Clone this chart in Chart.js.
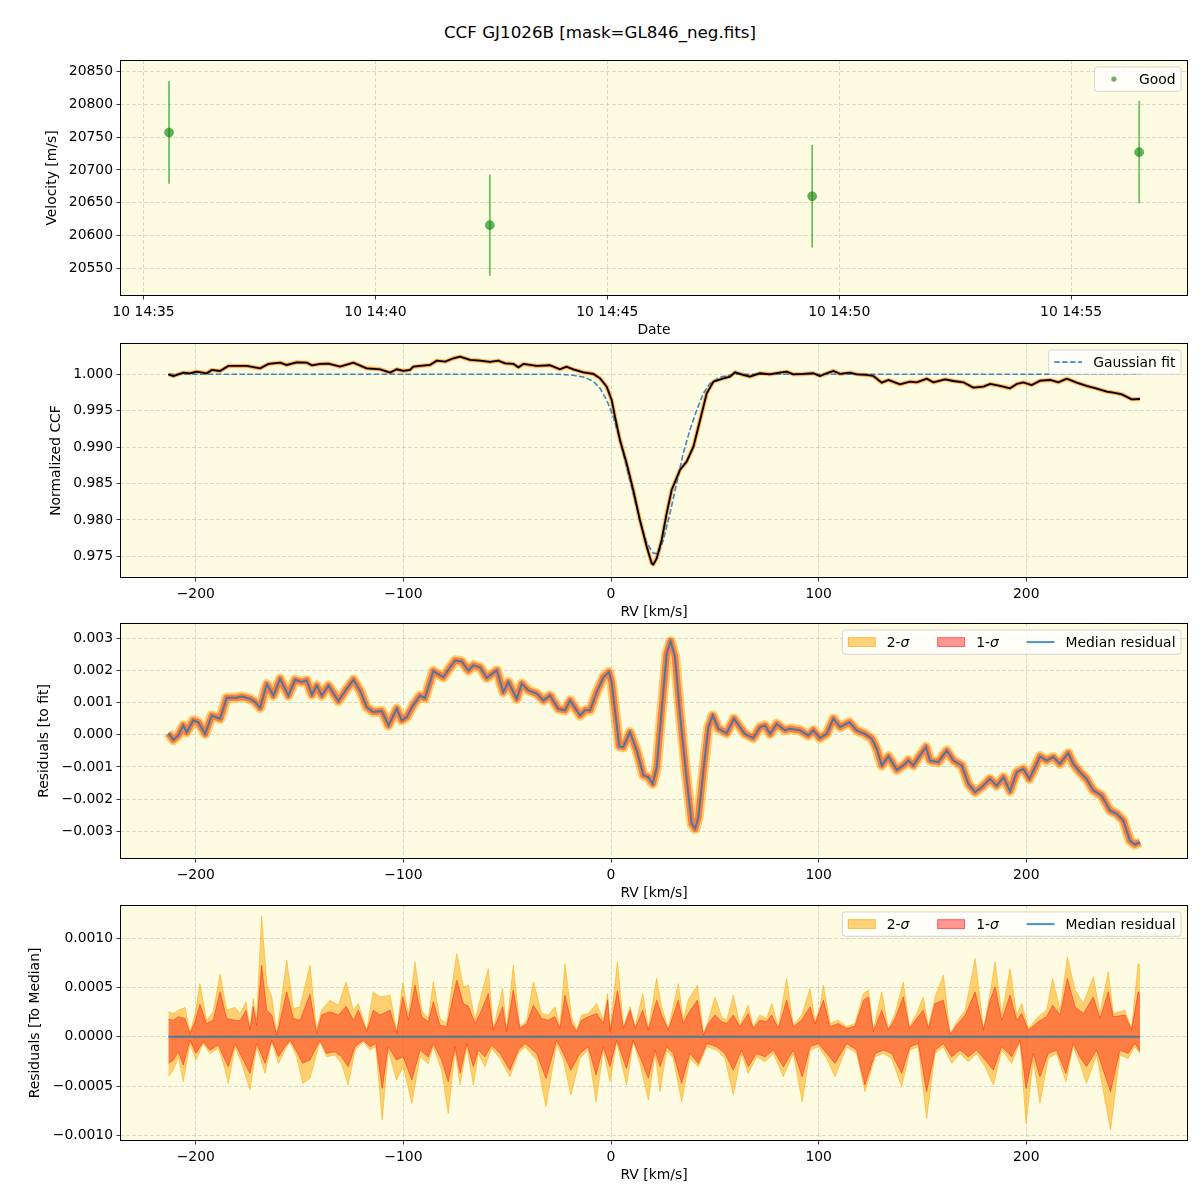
<!DOCTYPE html>
<html>
<head>
<meta charset="utf-8">
<script src="https://cdn.jsdelivr.net/npm/chart.js@4.4.1/dist/chart.umd.min.js"></script>
<style>
html,body{margin:0;padding:0;background:#fff;}
#wrap{position:relative;width:1200px;height:1200px;overflow:hidden;background:#fff;}
#wrap canvas{position:absolute;left:0;}
#title{position:absolute;left:0;top:22px;width:1200px;text-align:center;font-family:'DejaVu Sans',sans-serif;font-size:16.7px;line-height:20px;color:#000;}
</style>
</head>
<body>
<div id="wrap">
  <div id="title">CCF GJ1026B [mask=GL846_neg.fits]</div>
  <canvas id="c1" width="1200" height="302" style="top:40px"></canvas>
  <canvas id="c2" width="1200" height="301" style="top:323px"></canvas>
  <canvas id="c3" width="1200" height="302" style="top:603px"></canvas>
  <canvas id="c4" width="1200" height="302" style="top:885px"></canvas>
</div>
<script>
// ---------------- DATA ----------------
// Panel 1: velocity time series (10th, hour 14)
const obsTimes = ['14:35:33', '14:42:28', '14:49:25', '14:56:28'];
const velocity = [20757, 20616, 20660, 20727];
const velocityErr = [78, 77, 78, 78];
const timeTickMin = [35, 40, 45, 50, 55];
const timeTicks = ['10 14:35', '10 14:40', '10 14:45', '10 14:50', '10 14:55'];
const velTicks = [20550, 20600, 20650, 20700, 20750, 20800, 20850];

// RV axis ticks and residual ticks
const rvTicks = [-200, -100, 0, 100, 200];
const ccfTicks = [0.975, 0.980, 0.985, 0.990, 0.995, 1.000];
const resTicks = [-0.003, -0.002, -0.001, 0, 0.001, 0.002, 0.003];
const medTicks = [-0.0010, -0.0005, 0, 0.0005, 0.0010];

// Panel 2: normalized CCF and Gaussian fit
const ccfRV = [-213.2,-210.8,-206.0,-202.8,-199.6,-194.7,-192.3,-188.3,-184.3,-175.4,-169.0,-165.0,-159.4,-156.2,-151.4,-146.5,-144.1,-140.1,-136.1,-130.5,-124.1,-117.7,-111.2,-106.4,-103.2,-100.0,-96.8,-95.2,-92.0,-87.2,-83.9,-79.9,-75.9,-72.7,-67.9,-63.1,-58.3,-54.3,-51.0,-47.0,-44.6,-42.2,-35.8,-29.4,-24.6,-21.4,-18.2,-13.3,-8.5,-5.3,-2.1,0.3,1.9,4.3,7.5,10.7,13.9,17.2,19.6,20.4,22.0,24.4,26.8,29.2,33.2,36.4,39.7,42.9,46.1,49.3,54.1,57.3,59.7,63.7,66.9,71.7,76.5,81.3,84.6,87.8,92.6,97.4,100.6,103.9,107.1,110.3,115.1,118.3,123.2,126.4,130.4,133.6,139.2,144.0,147.2,152.1,155.3,160.9,164.9,169.7,174.5,179.4,182.6,187.4,192.2,195.4,198.6,202.6,206.7,211.5,215.5,219.5,224.3,229.1,234.0,238.8,242.0,246.0,250.8,254.8];
const ccfVal = [1.0000,0.99977,1.00023,1.00014,1.00037,1.00014,1.0006,1.00046,1.00115,1.00115,1.00082,1.00142,1.0016,1.00128,1.00165,1.0016,1.00124,1.00142,1.00147,1.00105,1.0016,1.00082,1.00069,1.00023,1.00069,1.00046,1.0006,1.00105,1.00115,1.00128,1.00188,1.00174,1.0022,1.00243,1.00197,1.00188,1.0017,1.00188,1.00151,1.00142,1.00096,1.00142,1.00115,1.00124,1.00069,1.00105,1.00069,1.00027,1.00005,0.99945,0.99831,0.99647,0.99418,0.99098,0.98777,0.98411,0.97999,0.97632,0.97403,0.97389,0.97472,0.97724,0.9809,0.98411,0.98686,0.988,0.99006,0.99373,0.99739,0.99899,0.99945,0.99968,1.00027,0.99991,0.99968,1.00014,1.0,1.00023,1.00037,1.0,1.00005,1.00014,0.99977,1.00014,1.00046,1.00005,1.00023,1.0,0.99991,0.99977,0.99885,0.99922,0.99863,0.99899,0.9989,0.9994,0.9989,0.99931,0.99908,0.9989,0.99817,0.99831,0.99867,0.9984,0.99808,0.99867,0.9989,0.99853,0.99913,0.99922,0.9989,0.9994,0.99885,0.9984,0.99803,0.99762,0.99748,0.99725,0.99656,0.99661];
const fitRV = [-213.2,-30.0,-24.6,-18.2,-13.3,-8.5,-5.3,-2.1,1.1,4.3,7.5,10.7,13.9,17.2,20.4,22.8,25.2,28.4,31.6,34.8,38.0,41.3,44.5,47.7,52.5,58.9,254.8];
const fitVal = [1.0,1.0,1.0,0.99986,0.99963,0.99904,0.99808,0.99647,0.99418,0.99098,0.98731,0.98365,0.98,0.9768,0.9754,0.9754,0.97724,0.9809,0.98503,0.98915,0.99235,0.9951,0.99739,0.99876,0.9996,1.0,1.0];

// Panel 3: median residual to fit (units of 1e-3)
const resRV = [-213.2,-210.8,-208.4,-206.0,-204.4,-201.2,-198.8,-195.5,-192.3,-188.3,-185.1,-180.3,-177.9,-173.9,-171.4,-169.0,-165.8,-162.6,-159.4,-155.4,-152.2,-149.0,-146.6,-144.1,-141.7,-139.3,-136.1,-131.3,-127.3,-124.1,-120.9,-117.7,-114.5,-110.4,-107.2,-103.2,-100.8,-98.4,-95.2,-92.0,-89.6,-85.6,-80.8,-77.5,-75.1,-71.9,-68.7,-66.3,-63.1,-59.9,-55.0,-51.9,-49.5,-45.4,-43.0,-39.8,-35.8,-32.6,-29.4,-25.4,-22.2,-19.7,-14.9,-12.5,-10.1,-6.9,-3.7,-1.0,0.3,1.9,4.0,5.9,9.1,12.4,15.6,18.0,20.1,22.0,24.4,26.8,28.7,30.8,33.2,36.5,38.9,40.5,42.1,44.5,46.9,49.0,51.7,55.7,59.2,62.1,64.5,68.5,71.8,74.2,76.6,79.8,83.8,86.2,91.0,95.0,97.4,100.6,103.9,107.1,110.3,114.8,118.3,122.3,125.6,128.0,130.4,133.6,137.6,140.8,143.2,145.6,148.8,151.7,153.6,157.6,161.7,164.9,168.9,172.1,175.3,178.5,182.5,185.7,189.0,192.2,195.4,198.6,201.5,204.2,206.6,209.8,213.0,216.2,220.2,222.6,225.8,229.0,232.3,236.3,240.3,243.5,246.7,249.9,252.3,254.8];
const resMed = [0.05,-0.16,-0.02,0.29,0.08,0.45,0.39,0.03,0.60,0.50,1.15,1.15,1.19,1.12,1.02,0.84,1.57,1.22,1.74,1.22,1.71,1.64,1.69,1.25,1.53,1.22,1.53,1.05,1.43,1.71,1.38,0.86,0.71,0.74,0.29,0.81,0.45,0.55,0.93,1.22,1.14,1.98,1.79,2.10,2.31,2.28,2.00,2.16,2.10,1.77,2.00,1.33,1.64,1.12,1.59,1.38,1.28,1.07,1.22,0.81,0.76,1.07,0.60,0.76,0.76,1.33,1.79,1.95,1.64,0.76,-0.36,-0.38,0.08,-0.49,-1.26,-1.32,-1.52,-1.01,0.76,2.52,2.91,2.42,0.65,-1.42,-2.77,-2.92,-2.56,-1.11,0.24,0.60,0.19,0.05,0.50,0.24,0.03,-0.10,0.24,0.29,0.03,0.34,0.14,0.19,0.14,-0.02,0.14,-0.10,0.03,0.50,0.24,0.39,0.14,0.03,-0.12,-0.44,-0.95,-0.67,-1.09,-0.95,-0.80,-0.95,-0.64,-0.38,-0.80,-0.85,-0.49,-0.80,-0.95,-1.52,-1.78,-1.63,-1.37,-1.58,-1.32,-1.75,-1.16,-1.06,-1.37,-1.01,-0.67,-0.80,-0.69,-0.90,-0.57,-0.90,-1.16,-1.37,-1.73,-1.89,-2.35,-2.46,-2.66,-3.29,-3.41,-3.34];

// Panel 4: residual to median, upper envelopes (units of 1e-4)
const upRV = [-213.2,-210.8,-208.4,-205.2,-202.8,-200.4,-198.0,-194.8,-191.6,-188.3,-185.1,-181.1,-178.7,-175.8,-173.9,-172.3,-170.7,-168.3,-165.8,-163.4,-161.0,-156.2,-153.0,-149.8,-145.0,-141.8,-139.4,-135.4,-131.3,-127.6,-124.1,-121.7,-117.7,-114.5,-111.3,-106.4,-103.2,-100.3,-97.6,-94.4,-91.2,-88.0,-85.6,-82.4,-79.2,-74.3,-71.1,-68.7,-65.5,-62.3,-59.1,-56.7,-52.2,-50.3,-47.1,-43.9,-40.6,-37.4,-33.4,-30.2,-27.0,-24.6,-22.2,-19.0,-16.6,-14.2,-11.0,-6.9,-3.7,-1.6,-0.5,3.1,6.0,9.2,11.6,15.3,18.0,22.0,24.4,27.6,32.4,34.8,37.2,41.6,44.5,46.9,50.1,53.3,55.7,58.9,62.1,66.1,68.5,71.7,74.9,77.4,80.6,84.6,87.8,91.8,95.9,98.3,100.6,102.3,105.5,109.5,113.5,117.5,121.6,124.0,126.4,130.4,133.6,136.8,140.8,143.7,147.2,150.4,152.9,156.1,160.1,163.3,166.5,170.6,175.4,179.4,182.6,185.0,188.2,192.2,195.4,197.8,201.0,205.8,209.8,212.7,216.3,219.8,223.5,227.5,232.3,235.5,239.5,241.9,247.5,250.7,253.9,254.8];
const up1 = [1.79,1.69,2.03,1.86,0.34,1.52,3.31,1.35,1.69,4.56,1.86,1.69,1.62,2.70,0.68,3.04,1.18,7.26,2.70,2.20,0.17,4.56,1.86,1.69,4.32,0.34,2.20,2.53,2.20,3.11,1.69,2.70,0.51,2.70,2.20,2.70,0.34,4.05,1.69,5.24,2.03,1.52,3.55,1.18,1.01,5.74,3.38,3.11,1.35,2.70,4.39,0.68,3.04,0.51,4.73,0.84,1.35,3.21,1.86,1.69,2.03,0.84,4.22,1.35,0.51,1.69,2.03,2.36,1.35,3.72,0.51,4.66,0.84,2.70,0.84,2.70,0.68,3.72,2.20,0.68,3.72,1.35,2.36,3.72,0.17,1.35,2.20,1.52,1.35,2.20,1.01,2.36,0.84,1.69,1.52,2.20,0.84,3.72,1.01,1.69,3.04,1.28,2.70,3.72,1.01,1.35,0.84,1.08,3.72,4.05,0.51,2.70,0.68,1.86,4.05,0.84,1.86,2.70,0.84,3.38,3.72,0.24,1.18,2.20,4.56,0.68,3.72,5.07,1.69,4.22,1.69,2.36,0.68,1.52,2.03,3.21,2.20,5.91,3.04,2.36,4.05,1.86,4.56,2.03,2.20,0.68,4.56,4.39];
const up2 = [2.53,2.36,2.70,2.97,0.51,2.20,5.40,1.69,2.53,6.35,2.70,2.97,2.36,3.55,0.84,3.88,1.69,12.23,5.40,4.05,0.34,7.77,2.87,3.04,7.26,0.68,2.70,3.72,3.21,5.57,2.70,3.38,0.68,4.56,4.05,4.22,0.51,5.47,2.20,7.60,2.70,1.86,5.57,1.86,1.35,8.45,5.07,5.24,1.69,4.39,6.92,0.84,4.90,0.68,7.26,1.01,1.69,5.57,2.36,2.20,3.04,1.01,7.43,2.03,0.68,2.20,2.36,3.38,1.69,4.39,0.68,7.60,1.01,3.04,1.01,4.39,0.84,5.91,3.04,0.84,5.40,1.69,3.72,5.24,0.34,1.69,4.05,2.03,1.69,4.22,1.18,3.21,1.01,2.20,1.86,3.38,1.01,5.91,1.18,2.20,4.90,1.52,3.04,5.24,1.35,1.69,1.01,1.35,4.39,4.73,0.68,4.56,0.84,2.36,5.57,1.01,2.36,4.05,1.01,4.05,6.25,0.34,1.52,2.70,7.94,0.84,4.39,7.60,2.20,6.92,2.20,3.38,0.84,2.03,2.70,5.91,2.70,8.11,4.73,3.38,6.08,2.36,6.59,2.36,2.70,0.84,7.43,7.26];

// Panel 4: lower envelopes (units of 1e-4)
const loRV = [-213.2,-210.8,-208.4,-206.0,-202.8,-199.9,-196.4,-193.2,-189.1,-186.7,-184.3,-181.1,-177.9,-173.9,-170.7,-166.6,-163.4,-160.2,-157.0,-154.6,-151.4,-148.5,-145.0,-140.2,-137.0,-133.0,-129.8,-126.6,-123.3,-119.3,-116.1,-113.3,-110.2,-107.3,-103.3,-100.1,-95.9,-92.0,-88.0,-85.6,-81.6,-78.4,-75.1,-72.7,-69.5,-66.3,-63.9,-60.7,-57.5,-53.5,-48.7,-44.6,-41.4,-35.8,-31.3,-26.2,-23.0,-19.3,-15.0,-11.0,-7.2,-3.7,-0.5,2.7,7.5,10.7,13.9,18.0,21.2,23.6,26.8,30.0,34.0,38.0,42.1,46.1,50.9,54.9,58.9,62.9,66.1,70.1,74.2,78.2,83.0,87.8,92.1,95.9,99.9,103.9,107.9,113.5,118.3,122.3,127.2,131.2,135.2,140.0,144.0,148.0,152.0,156.1,160.1,164.1,168.1,172.1,176.1,180.2,184.2,188.2,193.0,197.0,199.9,203.4,206.6,210.6,214.6,219.1,222.6,225.8,229.0,233.9,240.6,245.1,249.1,252.3,254.8];
const lo1 = [-2.70,-2.36,-1.52,-2.87,-0.34,-1.69,-0.51,-1.35,-0.84,-2.03,-3.04,-0.68,-2.03,-3.72,-0.68,-2.70,-0.34,-2.03,-1.01,-0.34,-1.52,-2.70,-2.36,-0.34,-1.69,-1.52,-2.03,-3.04,-1.01,-0.34,-1.01,-0.68,-5.24,-1.01,-2.36,-2.03,-4.39,-1.35,-2.03,-0.68,-2.36,-4.56,-1.01,-3.72,-0.68,-3.04,-1.35,-2.03,-0.84,-1.69,-3.38,-1.35,-0.68,-1.69,-4.22,-0.34,-1.69,-3.38,-1.69,-1.01,-3.88,-1.01,-3.04,-0.34,-3.21,-0.34,-2.03,-4.22,-1.35,-3.04,-1.01,-1.69,-4.73,-1.69,-2.70,-0.68,-1.01,-1.69,-3.38,-1.35,-3.04,-1.69,-2.03,-1.35,-3.04,-1.35,-4.05,-1.01,-0.68,-1.69,-2.70,-0.68,-1.35,-4.90,-1.69,-1.35,-1.69,-3.72,-1.01,-0.68,-5.57,-1.35,-0.68,-2.03,-1.35,-2.03,-1.35,-2.36,-3.38,-1.01,-2.03,-0.34,-5.24,-1.69,-4.05,-1.69,-1.35,-3.72,-0.68,-2.03,-3.04,-1.35,-5.57,-1.35,-1.69,-0.68,-1.52];
const lo2 = [-4.05,-3.38,-2.03,-4.56,-0.68,-2.36,-0.68,-1.69,-1.18,-2.70,-4.73,-1.01,-2.70,-5.40,-1.01,-3.72,-0.51,-2.70,-1.35,-0.51,-2.03,-4.73,-4.22,-0.51,-2.03,-1.86,-2.70,-4.90,-1.35,-0.51,-1.35,-1.01,-8.45,-1.35,-4.39,-3.04,-6.76,-2.03,-2.70,-1.01,-3.38,-7.77,-1.35,-4.90,-1.01,-4.90,-1.69,-3.04,-1.18,-2.20,-4.05,-1.69,-1.01,-2.36,-7.09,-0.68,-2.36,-5.91,-2.20,-1.35,-6.59,-1.35,-4.56,-0.51,-4.90,-0.51,-2.70,-6.42,-1.69,-5.57,-1.35,-2.20,-6.59,-2.20,-3.04,-1.01,-1.35,-2.20,-5.91,-1.69,-3.72,-2.03,-2.53,-1.69,-4.05,-1.69,-6.59,-1.35,-1.01,-2.20,-4.05,-1.01,-1.69,-5.57,-2.03,-1.69,-2.20,-5.07,-1.35,-1.01,-8.28,-1.69,-1.01,-2.70,-1.69,-2.53,-1.69,-3.04,-4.90,-1.35,-2.70,-0.51,-8.78,-2.36,-6.76,-2.20,-1.69,-4.56,-1.01,-2.70,-4.73,-1.86,-9.46,-1.86,-2.20,-1.01,-1.69];

// ---------------- HELPERS ----------------
const FONT = "'DejaVu Sans', sans-serif";
const FS = 13.9;
const BG = '#fdfbe1';
const GRID = 'rgba(176,176,176,0.6)';

function fmt(v, d) {
  if (Math.abs(v) < 1e-12) v = 0;
  return v.toFixed(d).replace('-', '\u2212');
}
function pts(xs, ys, k) {
  return xs.map((x, i) => ({ x: x, y: ys[i] * (k || 1) }));
}
function timeToMin(s) {
  const p = s.split(':').map(Number);
  return p[1] + p[2] / 60; // minutes within hour 14
}

const framePlugin = {
  id: 'frame',
  beforeDraw(chart) {
    const { ctx, chartArea: a } = chart;
    ctx.save();
    ctx.fillStyle = BG;
    ctx.fillRect(a.left, a.top, a.right - a.left, a.bottom - a.top);
    ctx.restore();
  },
  afterDraw(chart) {
    const { ctx, chartArea: a } = chart;
    ctx.save();
    ctx.strokeStyle = '#000';
    ctx.lineWidth = 1;
    ctx.strokeRect(a.left + 0.5, a.top + 0.5, a.right - a.left - 1, a.bottom - a.top - 1);
    ctx.restore();
  }
};

const errPlugin = {
  id: 'errbars',
  beforeDatasetsDraw(chart, args, opts) {
    if (!opts || !opts.x) return;
    const { ctx, scales } = chart;
    ctx.save();
    ctx.strokeStyle = opts.color;
    ctx.lineWidth = opts.width;
    opts.x.forEach((t, i) => {
      const px = scales.x.getPixelForValue(t);
      const y1 = scales.y.getPixelForValue(opts.y[i] - opts.e[i]);
      const y2 = scales.y.getPixelForValue(opts.y[i] + opts.e[i]);
      ctx.beginPath();
      ctx.moveTo(px, y1);
      ctx.lineTo(px, y2);
      ctx.stroke();
    });
    ctx.restore();
  }
};

function roundRectPath(ctx, x, y, w, h, r) {
  ctx.beginPath();
  ctx.moveTo(x + r, y);
  ctx.lineTo(x + w - r, y);
  ctx.quadraticCurveTo(x + w, y, x + w, y + r);
  ctx.lineTo(x + w, y + h - r);
  ctx.quadraticCurveTo(x + w, y + h, x + w - r, y + h);
  ctx.lineTo(x + r, y + h);
  ctx.quadraticCurveTo(x, y + h, x, y + h - r);
  ctx.lineTo(x, y + r);
  ctx.quadraticCurveTo(x, y, x + r, y);
  ctx.closePath();
}

const legendPlugin = {
  id: 'mplLegend',
  afterDraw(chart, args, opts) {
    if (!opts || !opts.items) return;
    const items = opts.items;
    const { ctx, chartArea: a } = chart;
    const pad = 0.4 * FS, hl = 2 * FS, htp = 0.8 * FS, cs = 2 * FS;
    ctx.save();
    const segFont = s => (s.it ? 'italic ' : '') + FS + 'px ' + FONT;
    const widths = items.map(it => it.label.reduce((w, s) => { ctx.font = segFont(s); return w + ctx.measureText(s.t).width; }, 0));
    let w = 2 * pad + cs * (items.length - 1);
    items.forEach((it, i) => { w += hl + htp + widths[i]; });
    const h = 24.3;
    const x0 = a.right - 0.5 * FS - w;
    const y0 = a.top + 0.5 * FS;
    roundRectPath(ctx, x0, y0, w, h, 2.8);
    ctx.fillStyle = 'rgba(255,255,255,0.8)';
    ctx.fill();
    ctx.strokeStyle = 'rgba(204,204,204,0.8)';
    ctx.lineWidth = 1;
    ctx.stroke();
    const cy = y0 + h / 2;
    let x = x0 + pad;
    items.forEach((it, i) => {
      if (it.type === 'marker') {
        ctx.beginPath();
        ctx.arc(x + hl / 2, cy, it.r, 0, Math.PI * 2);
        ctx.fillStyle = it.color;
        ctx.fill();
      } else if (it.type === 'line') {
        ctx.beginPath();
        ctx.setLineDash(it.dash || []);
        ctx.strokeStyle = it.color;
        ctx.lineWidth = it.width;
        ctx.moveTo(x, cy);
        ctx.lineTo(x + hl, cy);
        ctx.stroke();
        ctx.setLineDash([]);
      } else if (it.type === 'patch') {
        const ph = 0.7 * FS;
        ctx.fillStyle = it.fill;
        ctx.fillRect(x, cy - ph / 2, hl, ph);
        ctx.strokeStyle = it.stroke;
        ctx.lineWidth = 1;
        ctx.strokeRect(x + 0.5, cy - ph / 2 + 0.5, hl - 1, ph - 1);
      }
      let tx = x + hl + htp;
      ctx.fillStyle = '#000';
      ctx.textBaseline = 'middle';
      ctx.textAlign = 'left';
      it.label.forEach(s => {
        ctx.font = segFont(s);
        ctx.fillText(s.t, tx, cy + 1);
        tx += ctx.measureText(s.t).width;
      });
      x += hl + htp + widths[i] + cs;
    });
    ctx.restore();
  }
};

function gridOpts() {
  return { color: GRID, lineWidth: 0.8, tickColor: '#000', tickLength: 3.5, tickWidth: 0.8, tickBorderDash: [], drawTicks: true };
}
function xAxis(min, max, tickVals, title, cb) {
  return {
    type: 'linear', min: min, max: max, bounds: 'data',
    afterFit(s) { s.height = 46; },
    afterBuildTicks(s) { s.ticks = tickVals.map(v => ({ value: v })); },
    ticks: { autoSkip: false, maxRotation: 0, minRotation: 0, color: '#000', font: { family: FONT, size: FS }, padding: 4.5, callback: cb },
    grid: gridOpts(),
    border: { display: false, dash: [4, 2] },
    title: { display: true, text: title, color: '#000', font: { family: FONT, size: FS }, padding: { top: 0, bottom: 3.7 } }
  };
}
function yAxis(min, max, tickVals, title, dec, tpad) {
  return {
    type: 'linear', min: min, max: max, bounds: 'data',
    afterFit(s) { s.width = 120; },
    afterBuildTicks(s) { s.ticks = tickVals.map(v => ({ value: v })); },
    ticks: { autoSkip: false, color: '#000', font: { family: FONT, size: FS }, padding: 3.5, callback: v => fmt(v, dec) },
    grid: gridOpts(),
    border: { display: false, dash: [4, 2] },
    title: { display: true, text: title, color: '#000', font: { family: FONT, size: FS }, padding: { top: tpad, bottom: 0 } }
  };
}
function baseOptions(scales, plug) {
  return {
    responsive: false, maintainAspectRatio: false, animation: false, devicePixelRatio: 1,
    layout: { padding: { top: 20, right: 12, left: 0, bottom: 0 } },
    scales: scales,
    plugins: Object.assign({ legend: { display: false }, tooltip: { enabled: false }, title: { display: false } }, plug),
    elements: { point: { radius: 0 }, line: { tension: 0 } }
  };
}
const rvTick = v => fmt(v, 0);

// ---------------- PANEL 1 ----------------
const obsMin = obsTimes.map(timeToMin);
new Chart(document.getElementById('c1'), {
  type: 'scatter',
  data: { datasets: [{
    label: 'Good',
    data: pts(obsMin, velocity),
    pointRadius: 4.5,
    pointBackgroundColor: 'rgba(0,128,0,0.6)',
    pointBorderColor: 'rgba(0,128,0,0.35)',
    pointBorderWidth: 1
  }] },
  options: baseOptions({
    x: xAxis(34.493, 57.52, timeTickMin, 'Date', v => timeTicks[timeTickMin.indexOf(v)] || ''),
    y: yAxis(20508.2, 20867.2, velTicks, 'Velocity [m/s]', 0, 44)
  }, {
    errbars: { x: obsMin, y: velocity, e: velocityErr, color: 'rgba(0,140,0,0.55)', width: 1.8 },
    mplLegend: { items: [{ type: 'marker', r: 2.6, color: 'rgba(0,128,0,0.6)', label: [{ t: 'Good' }] }] }
  }),
  plugins: [framePlugin, errPlugin, legendPlugin]
});

// ---------------- PANEL 2 ----------------
const ccfPts = pts(ccfRV, ccfVal);
new Chart(document.getElementById('c2'), {
  type: 'line',
  data: { datasets: [
    { label: 'CCF', data: ccfPts, borderColor: '#000', borderWidth: 1.8, pointRadius: 0, order: 0 },
    { label: 'Gaussian fit', data: pts(fitRV, fitVal), borderColor: 'rgba(31,119,180,0.85)', borderWidth: 1.6, borderDash: [5.5, 2.4], pointRadius: 0, order: 1 },
    { label: '1-sigma', data: ccfPts, borderColor: 'rgba(255,60,20,0.45)', borderWidth: 3, pointRadius: 0, order: 2, borderJoinStyle: 'round' },
    { label: '2-sigma', data: ccfPts, borderColor: 'rgba(255,165,0,0.45)', borderWidth: 4.5, pointRadius: 0, order: 3, borderJoinStyle: 'round' }
  ] },
  options: baseOptions({
    x: xAxis(-236.5, 277.9, rvTicks, 'RV [km/s]', rvTick),
    y: yAxis(0.97202, 1.0043, ccfTicks, 'Normalized CCF', 3, 48.2)
  }, {
    mplLegend: { items: [{ type: 'line', color: 'rgba(31,119,180,0.85)', width: 1.6, dash: [5.5, 2.4], label: [{ t: 'Gaussian fit' }] }] }
  }),
  plugins: [framePlugin, legendPlugin]
});

// ---------------- PANEL 3 ----------------
const sigmaItems = [
  { type: 'patch', fill: 'rgba(255,165,0,0.5)', stroke: 'rgba(255,165,0,0.5)', label: [{ t: '2-' }, { t: '\u03c3', it: true }] },
  { type: 'patch', fill: 'rgba(255,0,0,0.4)', stroke: 'rgba(255,0,0,0.4)', label: [{ t: '1-' }, { t: '\u03c3', it: true }] },
  { type: 'line', color: 'rgba(31,119,180,0.8)', width: 2, label: [{ t: 'Median residual' }] }
];
const medPts = pts(resRV, resMed, 1e-3);
new Chart(document.getElementById('c3'), {
  type: 'line',
  data: { datasets: [
    { label: 'Median residual', data: medPts, borderColor: 'rgba(31,119,180,0.8)', borderWidth: 2, pointRadius: 0, order: 0 },
    { label: '1-sigma', data: medPts, borderColor: 'rgba(255,0,0,0.4)', borderWidth: 6.5, pointRadius: 0, order: 1, borderJoinStyle: 'round' },
    { label: '2-sigma', data: medPts, borderColor: 'rgba(255,165,0,0.5)', borderWidth: 10.5, pointRadius: 0, order: 2, borderJoinStyle: 'round' }
  ] },
  options: baseOptions({
    x: xAxis(-236.5, 277.9, rvTicks, 'RV [km/s]', rvTick),
    y: yAxis(-0.003861, 0.003476, resTicks, 'Residuals [to fit]', 3, 35.7)
  }, { mplLegend: { items: sigmaItems } }),
  plugins: [framePlugin, legendPlugin]
});

// ---------------- PANEL 4 ----------------
const zeroLine = [{ x: resRV[0], y: 0 }, { x: resRV[resRV.length - 1], y: 0 }];
new Chart(document.getElementById('c4'), {
  type: 'line',
  data: { datasets: [
    { label: 'Median residual', data: zeroLine, borderColor: 'rgba(31,119,180,0.8)', borderWidth: 2, pointRadius: 0, order: 0 },
    { label: '1-sigma up', data: pts(upRV, up1, 1e-4), borderColor: 'rgba(255,0,0,0.4)', backgroundColor: 'rgba(255,0,0,0.4)', borderWidth: 1, fill: 'origin', pointRadius: 0, order: 1 },
    { label: '1-sigma lo', data: pts(loRV, lo1, 1e-4), borderColor: 'rgba(255,0,0,0.4)', backgroundColor: 'rgba(255,0,0,0.4)', borderWidth: 1, fill: 'origin', pointRadius: 0, order: 2 },
    { label: '2-sigma up', data: pts(upRV, up2, 1e-4), borderColor: 'rgba(255,165,0,0.5)', backgroundColor: 'rgba(255,165,0,0.5)', borderWidth: 1, fill: 'origin', pointRadius: 0, order: 3 },
    { label: '2-sigma lo', data: pts(loRV, lo2, 1e-4), borderColor: 'rgba(255,165,0,0.5)', backgroundColor: 'rgba(255,165,0,0.5)', borderWidth: 1, fill: 'origin', pointRadius: 0, order: 4 }
  ] },
  options: baseOptions({
    x: xAxis(-236.5, 277.9, rvTicks, 'RV [km/s]', rvTick),
    y: yAxis(-0.001058, 0.001338, medTicks, 'Residuals [To Median]', 4, 26.7)
  }, { mplLegend: { items: sigmaItems } }),
  plugins: [framePlugin, legendPlugin]
});
</script>
</body>
</html>
